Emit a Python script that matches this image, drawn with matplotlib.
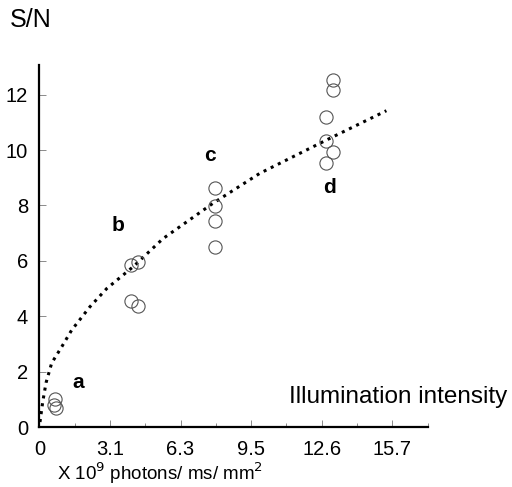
import numpy as np
import matplotlib
matplotlib.use('Agg')
from matplotlib import pyplot as plt
from matplotlib.ticker import FixedLocator

plt.rcParams['font.family'] = ['Liberation Sans', 'DejaVu Sans']

# measured points (x in 10^9 photons/ms/mm^2, y = S/N)
grp_a_x = [0.70, 0.66, 0.72]
grp_a_y = [1.02, 0.79, 0.70]
grp_b_x = [4.06, 4.37, 4.06, 4.37]
grp_b_y = [5.85, 5.97, 4.56, 4.37]
grp_c_x = [7.81, 7.81, 7.81, 7.81]
grp_c_y = [8.62, 7.99, 7.44, 6.51]
grp_d_x = [13.08, 13.08, 12.77, 12.77, 13.08, 12.77]
grp_d_y = [12.53, 12.17, 11.20, 10.34, 9.92, 9.52]

# dotted fit curve
fit_x = [0.03, 0.15, 0.30, 0.55, 1.0, 1.44, 2.25, 3.0, 4.18, 5.5, 7.73, 9.81, 12.92, 15.44]
fit_y = [0.18, 0.90, 1.60, 2.31, 2.90, 3.50, 4.34, 5.00, 5.79, 6.80, 8.08, 9.16, 10.42, 11.42]

xtick_pos = [0, 3.1416, 6.2832, 9.4248, 12.5664, 15.708]
xtick_lab = ['0', '3.1', '6.3', '9.5', '12.6', '15.7']
letters = [('a', 1.72, 1.59), ('b', 3.50, 7.27), ('c', 7.59, 9.82), ('d', 12.92, 8.63)]

fig = plt.figure(figsize=(5.12, 4.87), dpi=100)
ax = fig.add_axes([0.0768, 0.1232, 0.7586, 0.7433])

ax.plot(fit_x, fit_y, color='black', linewidth=2.2, linestyle=(0, (1, 1.6)))

for gx, gy in [(grp_a_x, grp_a_y), (grp_b_x, grp_b_y), (grp_c_x, grp_c_y), (grp_d_x, grp_d_y)]:
	ax.plot(gx, gy, linestyle='none', marker='o', markersize=9.5,
			markerfacecolor='none', markeredgecolor='#555555', markeredgewidth=0.8)

for txt, lx, ly in letters:
	ax.text(lx, ly, txt, fontsize=15, fontweight='bold', ha='center', va='center')

ax.set_xlim(0, 17.28)
ax.set_ylim(0, 13.07)
ax.spines['top'].set_visible(False)
ax.spines['right'].set_visible(False)
ax.spines['left'].set_linewidth(1.6)
ax.spines['bottom'].set_linewidth(1.6)

ax.xaxis.set_major_locator(FixedLocator(xtick_pos))
ax.set_xticklabels(xtick_lab)
ax.xaxis.set_minor_locator(FixedLocator([1.5708, 4.7124, 7.854, 10.9956, 14.1372, 17.28]))
ax.set_yticks([0, 2, 4, 6, 8, 10, 12])
ax.tick_params(axis='both', which='major', direction='in', length=5, width=0.6,
			   color='#777777', labelsize=14.5)
ax.tick_params(axis='x', which='minor', direction='in', length=3, width=0.6, color='#777777')
ax.tick_params(axis='x', pad=9)
ax.tick_params(axis='y', pad=8)

fig.text(0.0195, 0.959, 'S/N', fontsize=18, ha='left', va='center')
fig.text(0.990, 0.185, 'Illumination intensity', fontsize=17.5, ha='right', va='center')
fig.text(0.312, 0.029, 'X 10$^9$ photons/ ms/ mm$^2$', fontsize=13.5, ha='center', va='center')

plt.savefig('out.png', dpi=100)
